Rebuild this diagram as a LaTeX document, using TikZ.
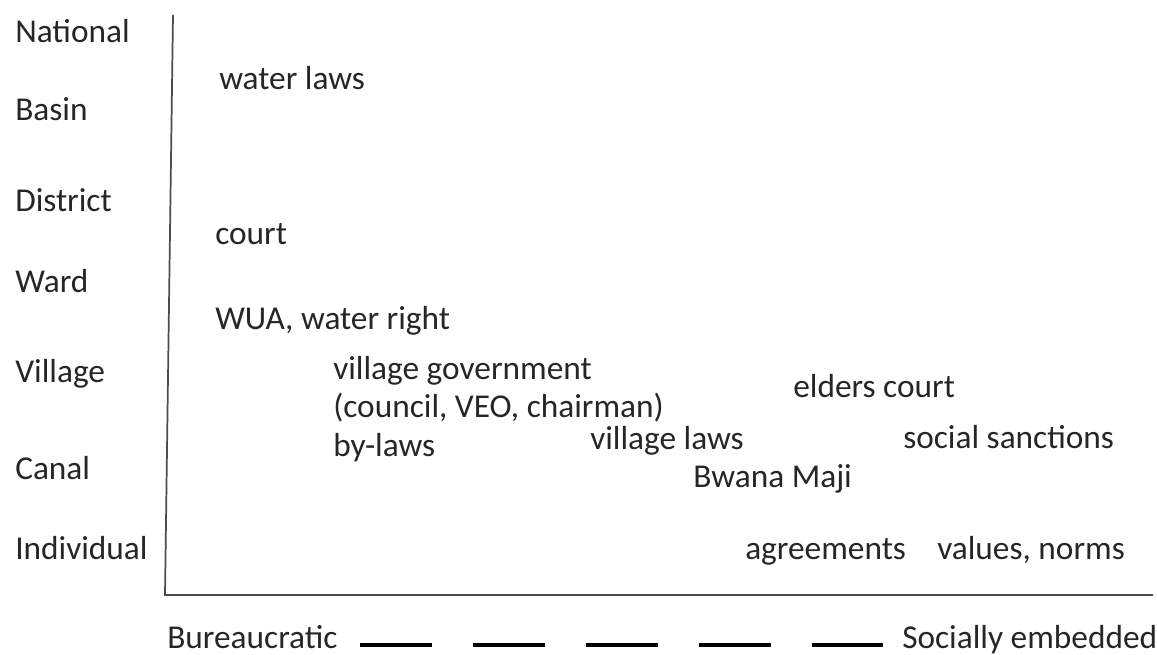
\documentclass[tikz,border=0pt]{standalone}
\usepackage{fontspec}
\setmainfont{Carlito}
\usetikzlibrary{positioning}

\begin{document}
\begin{tikzpicture}[x=0.75pt, y=-0.75pt,
    txt/.style={anchor=base west, inner sep=0pt, text=black!85, font=\fontsize{25}{29}\selectfont},
    axis/.style={draw=black!70, line width=1.3pt},
    dashscale/.style={line width=3.5pt, dash pattern=on 54pt off 30.75pt}]
    \useasboundingbox (0,0) rectangle (1157,655);

    % Levels
    \node[txt] (national) at (15,43) {National};
    \node[txt] (basin) at (15,121) {Basin};
    \node[txt] (district) at (15,212) {District};
    \node[txt] (ward) at (15,293) {Ward};
    \node[txt] (village) at (15,383) {Village};
    \node[txt] (canal) at (15,480) {Canal};
    \node[txt] (individual) at (15,560) {Individual};

    % Axes
    \coordinate (ytop) at (173,15);
    \coordinate (origin) at (165,595);
    \coordinate (xend) at (1153,595);
    \draw[axis] (ytop) -- (origin) -- (xend);

    % Institutions
    \node[txt] (waterlaws) at (219,90) {water laws};
    \node[txt] (court) at (215,245) {court};
    \node[txt] (wua) at (215,330) {WUA, water right};
    \node[txt] (villgov) at (333,380) {village government};
    \node[txt] (council) at (333,418) {(council, VEO, chairman)};
    \node[txt] (bylaws) at (333,457) {by-laws};
    \node[txt] (villlaws) at (590,450) {village laws};
    \node[txt] (elders) at (793,398) {elders court};
    \node[txt] (sanctions) at (903,449) {social sanctions};
    \node[txt] (bwana) at (693,488) {Bwana Maji};
    \node[txt] (agreements) at (745,560) {agreements};
    \node[txt] (values) at (937,560) {values, norms};

    % Bureaucratic - socially embedded scale
    \node[txt] (bur) at (167,648) {Bureaucratic};
    \node[txt] (soc) at (902,648) {Socially embedded};
    \coordinate (dstart) at (360,645);
    \coordinate (dend) at (883,645);
    \draw[dashscale] (dstart) -- (dend);
\end{tikzpicture}
\end{document}
